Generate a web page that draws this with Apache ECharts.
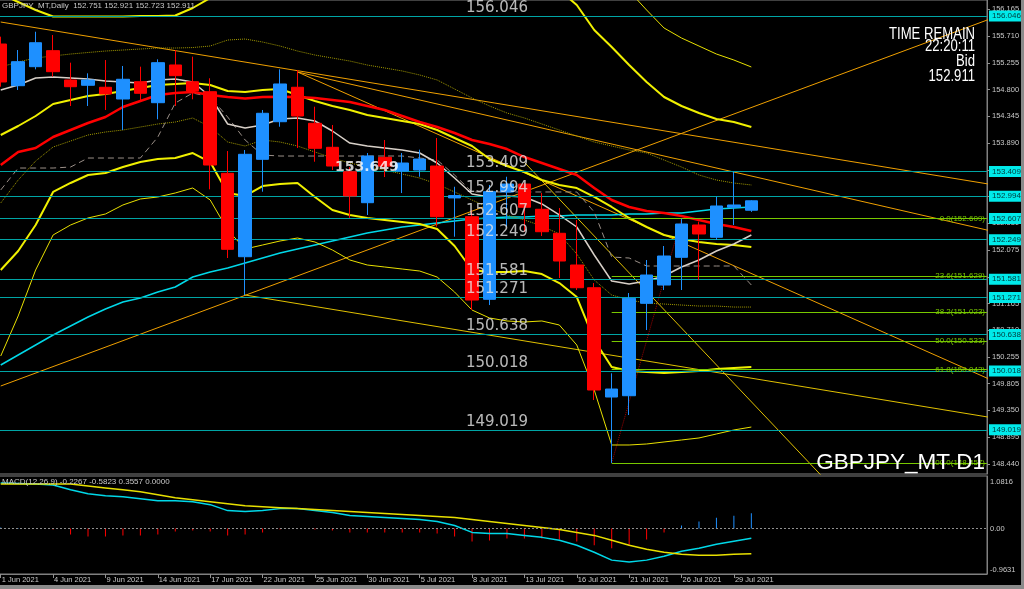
<!DOCTYPE html>
<html><head><meta charset="utf-8">
<script src="https://cdn.jsdelivr.net/npm/echarts@6/dist/echarts.min.js"></script>
<style>html,body{margin:0;padding:0;background:#000;overflow:hidden}#c{width:1024px;height:589px}</style>
</head><body><div id="c"></div>
<script>
const dates = ["1 Jun 2021","2 Jun 2021","3 Jun 2021","4 Jun 2021","7 Jun 2021","8 Jun 2021","9 Jun 2021","10 Jun 2021","11 Jun 2021","14 Jun 2021","15 Jun 2021","16 Jun 2021","17 Jun 2021","18 Jun 2021","21 Jun 2021","22 Jun 2021","23 Jun 2021","24 Jun 2021","25 Jun 2021","28 Jun 2021","29 Jun 2021","30 Jun 2021","1 Jul 2021","2 Jul 2021","5 Jul 2021","6 Jul 2021","7 Jul 2021","8 Jul 2021","9 Jul 2021","12 Jul 2021","13 Jul 2021","14 Jul 2021","15 Jul 2021","16 Jul 2021","19 Jul 2021","20 Jul 2021","21 Jul 2021","22 Jul 2021","23 Jul 2021","26 Jul 2021","27 Jul 2021","28 Jul 2021","29 Jul 2021","30 Jul 2021"];
const opens  = [155.575,154.867,155.190,155.462,154.964,154.874,154.840,154.641,154.935,154.578,155.219,154.935,154.765,153.378,151.961,153.616,154.255,154.840,154.228,153.820,153.405,152.879,153.650,153.417,153.434,153.502,152.960,152.641,151.237,153.060,153.196,152.767,152.359,151.820,151.434,149.577,149.599,151.169,151.480,151.951,152.500,152.291,152.801,152.751];
const closes = [154.930,155.275,155.597,155.105,154.850,154.964,154.726,154.976,154.738,155.258,155.037,154.777,153.519,152.087,153.701,154.398,154.896,154.352,153.803,153.502,152.993,153.672,153.500,153.553,153.621,152.641,153.000,151.225,153.066,153.196,152.801,152.386,151.888,151.434,149.696,149.713,151.254,151.650,151.973,152.517,152.347,152.823,152.840,152.911];
const highs  = [155.700,155.473,155.784,155.728,155.258,155.077,155.303,155.202,155.190,155.315,155.473,155.360,154.993,153.757,153.774,154.454,155.145,155.134,154.510,154.199,153.485,153.723,153.944,153.723,153.780,153.978,153.150,152.750,153.180,153.320,153.220,153.043,152.789,152.585,151.514,149.980,151.344,151.905,152.143,152.609,152.556,152.981,153.405,152.921];
const lows   = [154.850,154.794,155.145,155.020,154.522,154.522,154.454,154.114,154.624,154.296,154.522,154.636,153.106,151.939,151.310,153.066,154.170,153.808,153.575,153.434,152.619,152.670,153.315,153.043,153.320,152.471,152.301,151.055,151.140,152.471,152.386,152.313,151.599,151.395,149.526,148.457,149.271,150.716,151.395,151.395,151.565,152.245,152.500,152.723];

const maRed    = [153.519,153.740,153.808,153.995,154.114,154.233,154.335,154.505,154.607,154.709,154.743,154.760,154.709,154.675,154.649,154.675,154.680,154.675,154.658,154.624,154.590,154.522,154.454,154.352,154.250,154.165,154.063,153.944,153.876,153.791,153.655,153.553,153.451,153.349,153.128,152.925,152.806,152.738,152.704,152.653,152.585,152.517,152.466,152.398];
const maSilver = [154.794,154.879,154.998,155.015,154.998,154.981,154.947,154.930,154.913,154.964,154.981,154.930,154.683,154.216,154.148,154.199,154.301,154.318,154.267,154.097,153.893,153.842,153.808,153.774,153.723,153.553,153.298,153.027,152.976,152.993,152.976,152.857,152.670,152.466,151.990,151.548,151.497,151.548,151.633,151.786,151.905,152.058,152.177,152.330];
const bbMid    = [154.029,154.182,154.352,154.556,154.624,154.692,154.726,154.777,154.828,154.879,154.896,154.913,154.879,154.777,154.760,154.794,154.811,154.709,154.607,154.522,154.454,154.369,154.318,154.267,154.216,154.114,153.978,153.842,153.622,153.502,153.400,153.264,153.180,153.128,152.976,152.806,152.619,152.466,152.330,152.262,152.211,152.177,152.160,152.126];
const bbUp1    = [155.185,155.270,155.338,155.372,155.405,155.431,155.456,155.473,155.490,155.507,155.507,155.515,155.541,155.643,155.660,155.609,155.541,155.456,155.388,155.337,155.286,155.218,155.168,155.117,155.049,154.964,154.811,154.658,154.522,154.403,154.318,154.216,154.114,154.012,153.910,153.842,153.774,153.723,153.604,153.485,153.349,153.264,153.213,153.180];
const bbLo1    = [152.874,153.264,153.587,153.825,153.927,154.029,154.080,154.114,154.165,154.216,154.250,154.318,154.165,153.910,153.842,153.944,153.910,153.842,153.740,153.638,153.553,153.485,153.434,153.366,153.298,153.196,153.061,152.925,152.789,152.670,152.585,152.483,152.347,152.007,151.565,151.310,151.225,151.174,151.157,151.140,151.123,151.123,151.106,151.106];
const bbUp2    = [156.425,156.289,156.153,156.043,156.043,156.043,156.043,156.043,156.051,156.051,156.060,156.187,156.357,156.600,156.700,156.750,156.800,156.800,156.800,156.800,156.800,156.800,156.800,156.800,156.800,156.800,156.800,156.800,156.800,156.750,156.650,156.550,156.493,156.238,155.813,155.524,155.219,154.930,154.675,154.522,154.403,154.301,154.250,154.165];
const bbLo2    = [151.735,152.058,152.500,153.061,153.214,153.349,153.383,153.485,153.570,153.621,153.638,153.723,153.570,153.044,152.993,153.162,153.196,153.214,152.976,152.755,152.670,152.619,152.585,152.551,152.517,152.432,152.143,151.735,151.701,151.701,151.718,151.667,151.514,151.276,150.546,150.087,150.019,150.002,149.985,150.002,150.019,150.053,150.070,150.087];
const bbUp3    = [157.000,157.000,157.000,157.000,157.000,157.000,157.000,157.000,157.000,157.000,157.000,157.000,157.000,157.000,157.000,157.000,157.000,157.000,157.000,157.000,157.000,157.000,157.000,157.000,157.000,157.000,157.000,157.000,157.000,157.000,157.000,157.000,157.000,156.900,156.850,156.850,156.476,156.153,155.847,155.677,155.541,155.405,155.303,155.185];
const bbLo3    = [150.274,150.954,151.735,152.330,152.500,152.619,152.687,152.840,152.942,152.976,153.044,153.129,152.925,152.415,152.092,152.160,152.228,152.279,152.211,152.075,151.905,151.820,151.786,151.752,151.718,151.616,151.361,151.055,150.920,150.869,150.852,150.869,150.801,150.461,149.696,148.762,148.762,148.779,148.813,148.847,148.881,148.949,149.017,149.067];
const kijun    = [153.095,153.468,153.468,153.468,153.485,153.638,153.638,153.638,153.638,153.995,154.573,154.743,154.675,154.335,153.944,153.689,153.672,153.672,153.672,153.672,153.672,153.672,153.672,153.672,153.638,153.604,153.349,153.061,153.061,153.061,153.061,153.061,153.061,153.061,152.721,151.956,151.939,151.803,151.803,151.803,151.803,151.803,151.803,151.480];
const maCyan   = [150.121,150.291,150.461,150.631,150.784,150.937,151.072,151.191,151.259,151.361,151.446,151.616,151.701,151.769,151.854,151.939,152.024,152.092,152.160,152.228,152.296,152.364,152.415,152.466,152.500,152.534,152.568,152.602,152.619,152.636,152.636,152.653,152.653,152.670,152.670,152.670,152.687,152.687,152.704,152.704,152.738,152.772,152.789,152.806];

const levels   = [156.046,153.409,152.994,152.607,152.249,151.581,151.271,150.638,150.018,149.019];
const fiboPct  = ["0.0","23.6","38.2","50.0","61.8","100.0"];
const fiboVals = [152.609,151.629,151.023,150.533,150.043,148.457];
const yTicks   = [156.165,155.710,155.255,154.800,154.345,153.890,153.435,152.980,152.530,152.075,151.620,151.165,150.710,150.255,149.805,149.350,148.895,148.440];
const macdTicks = [1.0816,0,-0.9631];
const bidPrice = 152.911;
const markText = "153.649";
const headerText = "GBPJPY_MT,Daily  152.751 152.921 152.723 152.911";
const macdText = "MACD(12,26,9) -0.2267 -0.5823 0.3557 0.0000";
const infoLines = ["TIME REMAIN","22:20:11","Bid","152.911"];
const symbolText = "GBPJPY_MT D1";

// trend lines: [barIndex, price] anchor pairs
const trendOrange = [
  [[0,155.949],[43,153.857]],
  [[17,155.100],[43,151.676]],
  [[17,155.100],[43,153.332]],
  [[0,149.764],[43,154.496]]
];
const trendGold = [
  [[14,151.310],[43,149.897]],
  [[30,153.565],[43,149.497]]
];
const fiboAnchor = [[35,148.457],[39,152.609]];

const macdMain   = [1.058,1.046,1.035,1.012,0.898,0.806,0.760,0.737,0.691,0.645,0.645,0.622,0.554,0.416,0.393,0.416,0.462,0.462,0.416,0.370,0.301,0.278,0.255,0.232,0.209,0.163,0.071,-0.090,-0.113,-0.113,-0.159,-0.205,-0.274,-0.389,-0.549,-0.733,-0.779,-0.733,-0.641,-0.526,-0.457,-0.365,-0.296,-0.2267];
const macdSignal = [1.035,1.035,1.035,1.035,1.035,0.989,0.943,0.898,0.852,0.783,0.714,0.668,0.622,0.576,0.530,0.508,0.485,0.462,0.439,0.416,0.393,0.370,0.347,0.324,0.301,0.278,0.255,0.209,0.163,0.117,0.071,0.025,-0.021,-0.090,-0.159,-0.274,-0.389,-0.481,-0.549,-0.595,-0.618,-0.618,-0.595,-0.5823];
const macdHist   = [0.023,0.011,0,-0.023,-0.138,-0.184,-0.184,-0.161,-0.161,-0.138,-0.069,-0.046,-0.069,-0.161,-0.138,-0.092,-0.023,0,-0.023,-0.046,-0.092,-0.092,-0.092,-0.092,-0.092,-0.115,-0.184,-0.299,-0.276,-0.230,-0.230,-0.230,-0.253,-0.299,-0.390,-0.459,-0.390,-0.253,-0.092,0.069,0.161,0.253,0.299,0.3557];

// ---------- layout constants ----------
const N = 57, RIGHT = 37, LEFT = -8;
const cats = Array.from({length:N},(_,i)=> i < dates.length ? dates[i] : '');
const XMAX = N - 0.5;
const LABEL_X = 26.65, MARK_X = 19.15;
const ohlc = opens.map((o,i)=>[o, closes[i], lows[i], highs[i]]);
const idx = a => a.map((v,i)=>[i,v]);
function ray(p){ const [a,b]=p; const s=(b[1]-a[1])/(b[0]-a[0]); return [a,[XMAX+2, a[1]+s*(XMAX+2-a[0])]]; }

const lineS = (data,color,width,type,z)=>({type:'line',xAxisIndex:1,yAxisIndex:0,data:idx(data),symbol:'none',silent:true,
  lineStyle:{color,width,type:type||'solid'},z:z||3,animation:false});
const segS = (data,color,width,type)=>({type:'line',xAxisIndex:1,yAxisIndex:0,data,symbol:'none',silent:true,
  lineStyle:{color,width,type:type||'solid'},z:2,animation:false});

const TAGFONT = {fontFamily:'Liberation Sans',fontSize:8};
const series = [];
series.push({type:'line',xAxisIndex:1,yAxisIndex:0,data:[],silent:true,animation:false,
  markLine:{symbol:'none',silent:true,animation:false,
    lineStyle:{color:'#00a5a5',width:1,type:'solid'},
    label:Object.assign({show:true,position:'end',distance:2,formatter:p=>levels[p.dataIndex].toFixed(3),
      backgroundColor:'#00eaea',color:'#00383a',padding:[2,3,1,3]},TAGFONT),
    data:levels.map(v=>({yAxis:v}))}});
series.push({type:'line',xAxisIndex:1,yAxisIndex:0,data:[],silent:true,animation:false,z:1,
  markLine:{symbol:'none',silent:true,animation:false,lineStyle:{opacity:0},
    label:Object.assign({show:true,position:'end',distance:2,formatter:()=>bidPrice.toFixed(3),
      backgroundColor:'#ffffff',color:'#000',padding:[2,3,1,3]},TAGFONT),
    data:[{yAxis:bidPrice}]}});
series.push({type:'line',xAxisIndex:1,yAxisIndex:0,data:[],silent:true,animation:false,
  markLine:{symbol:'none',silent:true,animation:false,lineStyle:{color:'#78c800',width:1,type:'solid'},
    label:{show:true,position:'insideEndTop',distance:[2,-4],color:'#78c800',fontFamily:'Liberation Sans',fontSize:8,
      formatter:p=>fiboPct[p.dataIndex]+'('+fiboVals[p.dataIndex].toFixed(3)+')'},
    data:fiboVals.map(v=>[{coord:[fiboAnchor[0][0],v]},{coord:[XMAX,v]}])}});
series.push(segS(fiboAnchor,'#a00000',1,'dotted'));

trendOrange.forEach(p=>series.push(segS(ray(p),'#f0a000',1)));
trendGold.forEach(p=>series.push(segS(ray(p),'#e0c000',1)));

series.push(lineS(maCyan,'#00d8e8',1.5));
series.push(lineS(bbLo3,'#e8e000',1));
series.push(lineS(bbUp3,'#e8e000',1));
series.push(lineS(bbUp1,'#a09800',1,'dotted'));
series.push(lineS(bbLo1,'#a09800',1,'dotted'));
series.push(lineS(kijun,'#9a8f88',1,[6,4]));
series.push(lineS(bbLo2,'#f0f000',2));
series.push(lineS(bbUp2,'#f0f000',2));
series.push(lineS(bbMid,'#f0f000',2));
series.push(lineS(maSilver,'#d8d0c8',1.5));
series.push(lineS(maRed,'#ff0000',2.5,'solid',4));

series.push({type:'candlestick',xAxisIndex:0,yAxisIndex:0,data:ohlc,barWidth:13,animation:false,z:5,
  itemStyle:{color:'#1e90ff',color0:'#ff0000',borderColor:'#1e90ff',borderColor0:'#ff0000',borderWidth:1}});

series.push({type:'scatter',xAxisIndex:1,yAxisIndex:0,symbolSize:0,silent:true,animation:false,z:8,
  data:levels.map(v=>[LABEL_X,v]),
  label:{show:true,position:'right',distance:0,offset:[0,-8],color:'#e6e6e6',fontFamily:'DejaVu Sans',fontSize:15,
    formatter:p=>p.value[1].toFixed(3)}});
series.push({type:'scatter',xAxisIndex:1,yAxisIndex:0,symbolSize:0,silent:true,animation:false,z:8,
  data:[[MARK_X,parseFloat(markText)]],
  label:{show:true,position:'right',distance:0,offset:[0,9.5],color:'#ffffff',fontWeight:'bold',fontFamily:'DejaVu Sans',fontSize:14,
    formatter:()=>markText}});

series.push({type:'bar',xAxisIndex:2,yAxisIndex:1,data:macdHist.map(v=>({value:v,itemStyle:{color:v>=0?'#1e90ff':'#ff0000'}})),
  barWidth:1,animation:false,silent:true,
  markLine:{symbol:'none',silent:true,animation:false,label:{show:false},lineStyle:{color:'#909090',type:[2,2],width:1},data:[{yAxis:0}]}});
series.push({type:'line',xAxisIndex:2,yAxisIndex:1,data:macdMain,symbol:'none',lineStyle:{color:'#00d8e8',width:1.5},animation:false,silent:true});
series.push({type:'line',xAxisIndex:2,yAxisIndex:1,data:macdSignal,symbol:'none',lineStyle:{color:'#e8e000',width:1.5},animation:false,silent:true});

const axisTxt = {color:'#c8c8c8',fontFamily:'Liberation Sans',fontSize:7.5};
const option = {
  backgroundColor:'#000000',
  animation:false,
  grid:[
    {left:LEFT,right:RIGHT,top:0,height:474,show:true,borderColor:'#808080',borderWidth:1,containLabel:false,outerBoundsMode:'none'},
    {left:LEFT,right:RIGHT,top:476,height:98,show:true,borderColor:'#808080',borderWidth:1,containLabel:false,outerBoundsMode:'none'}
  ],
  xAxis:[
    {type:'category',gridIndex:0,data:cats,boundaryGap:true,axisLine:{show:false,onZero:false},axisTick:{show:false},axisLabel:{show:false},splitLine:{show:false}},
    {type:'value',gridIndex:0,min:-0.5,max:XMAX,show:false,axisLine:{onZero:false},splitLine:{show:false}},
    {type:'category',gridIndex:1,data:cats,boundaryGap:true,position:'bottom',
      axisLine:{show:true,onZero:false,lineStyle:{color:'#808080'}},
      axisTick:{show:true,alignWithLabel:true,length:4,interval:i=>i%3===0 && i<dates.length,lineStyle:{color:'#909090'}},
      axisLabel:Object.assign({interval:i=>i%3===0 && i<dates.length,align:'left',margin:2,padding:[0,0,0,1]},axisTxt),
      splitLine:{show:false}}
  ],
  yAxis:[
    {type:'value',gridIndex:0,position:'right',min:148.269,max:156.323,
      axisLine:{show:true,onZero:false,lineStyle:{color:'#808080'}},
      axisTick:{show:true,length:3,customValues:yTicks,lineStyle:{color:'#909090'}},
      axisLabel:Object.assign({customValues:yTicks,margin:5,formatter:v=>v.toFixed(3)},axisTxt),
      splitLine:{show:false}},
    {type:'value',gridIndex:1,position:'right',min:-1.055,max:1.219,
      axisLine:{show:true,onZero:false,lineStyle:{color:'#808080'}},
      axisTick:{show:false},
      axisLabel:Object.assign({customValues:macdTicks,margin:3,formatter:v=>v===0?'0.00':v.toFixed(4)},axisTxt),
      splitLine:{show:false}}
  ],
  graphic:[
    {type:'text',x:2,y:2,style:{text:headerText,fill:'#c8c8c8',font:'8px "Liberation Sans"'},z:100},
    {type:'text',x:2,y:478,style:{text:macdText,fill:'#c8c8c8',font:'8px "Liberation Sans"'},z:100},
    ...infoLines.map((t,i)=>({type:'text',x:975,y:[27,39,54,69][i],scaleX:0.82,
      style:{text:t,fill:'#ffffff',font:'16px "Liberation Sans"',align:'right',verticalAlign:'top'},z:100})),
    {type:'text',x:985,y:451,style:{text:symbolText,fill:'#ffffff',font:'22.5px "Liberation Sans"',align:'right',verticalAlign:'top'},z:100},
    {type:'rect',left:0,top:585,shape:{width:1024,height:4},style:{fill:'#8a8a8a'},z:100},
    {type:'rect',left:1021,top:0,shape:{width:3,height:589},style:{fill:'#8a8a8a'},z:100}
  ],
  series
};
const chart = echarts.init(document.getElementById('c'),null,{renderer:'canvas'});
chart.setOption(option);
</script></body></html>
